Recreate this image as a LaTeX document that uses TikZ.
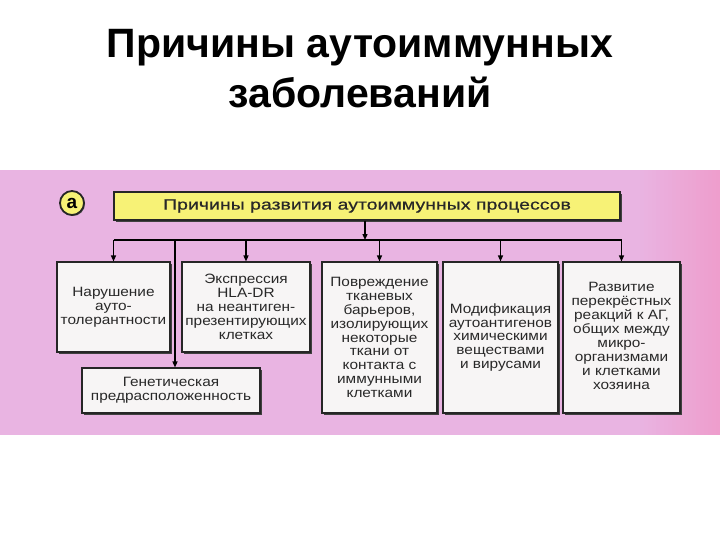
\documentclass[tikz,border=0pt]{standalone}
\usepackage{fontspec}
\setmainfont{Liberation Sans}
\newfontfamily\boxfont[FakeStretch=1.14]{Liberation Sans}
\newfontfamily\hdrfont[FakeStretch=1.3,FakeBold=0.6]{Liberation Sans}
\usetikzlibrary{positioning,arrows.meta,shadows}

\definecolor{bandpink}{RGB}{233,180,226}
\definecolor{edgepink}{RGB}{238,158,205}
\definecolor{hdryellow}{RGB}{247,242,118}
\definecolor{boxwhite}{RGB}{247,245,245}
\definecolor{boxtext}{RGB}{40,40,40}

\tikzset{
  cause/.style={draw=black!85,line width=1.1pt,fill=boxwhite,align=center,
    text=boxtext,font=\boxfont\fontsize{13.5}{13.9}\selectfont,inner sep=0pt,
    drop shadow={shadow xshift=1.6pt,shadow yshift=-1.6pt,fill=black!75,opacity=1}},
  arr/.style={-{Triangle[length=6pt,width=5pt]},line width=1.3pt}
}

\begin{document}
\begin{tikzpicture}[x=1pt,y=-1pt]
  \useasboundingbox[fill=white] (0,0) rectangle (720,540);
  % pink band, darker towards the right edge
  \fill[bandpink] (0,170) rectangle (720,435);
  \foreach \i in {0,...,19}{
    \pgfmathtruncatemacro\mix{5*\i+5}
    \fill[edgepink!\mix!bandpink] (640+4*\i,170) rectangle (644.5+4*\i,435);
  }

  % title
  \node[font=\bfseries\fontsize{41}{50}\selectfont,align=center] (title) at (360,69)
    {Причины аутоиммунных\\заболеваний};

  % header
  \node[circle,draw=black!85,line width=1.8pt,fill=hdryellow,minimum width=24pt,
    minimum height=21pt,inner sep=0pt,font=\bfseries\fontsize{19}{19}\selectfont,
    drop shadow={shadow xshift=1pt,shadow yshift=-1pt,fill=black!60,opacity=1}]
    (mark) at (72,203) {\raisebox{-1pt}{а}};
  \node[draw=black!85,line width=1.1pt,fill=hdryellow,minimum width=506pt,minimum height=28pt,
    inner sep=0pt,font=\hdrfont\fontsize{15}{15}\selectfont,text=boxtext,
    drop shadow={shadow xshift=1.6pt,shadow yshift=-1.6pt,fill=black!75,opacity=1}]
    (hdr) at (367,206) {Причины развития аутоиммунных процессов};

  % causes
  \node[cause,minimum width=113pt,minimum height=90pt] (tol) at (113.5,307)
    {Нарушение\\ауто-\\толерантности};
  \node[cause,minimum width=128pt,minimum height=90pt] (hla) at (246,307)
    {Экспрессия\\HLA-DR\\на неантиген-\\презентирующих\\клетках};
  \node[cause,minimum width=178pt,minimum height=45pt] (genet) at (171,390.5)
    {Генетическая\\предрасположенность};
  \node[cause,minimum width=115pt,minimum height=151pt] (barr) at (379.5,337.5)
    {Повреждение\\тканевых\\барьеров,\\изолирующих\\некоторые\\ткани от\\контакта с\\иммунными\\клетками};
  \node[cause,minimum width=115pt,minimum height=151pt] (modif) at (500.5,337.5)
    {Модификация\\аутоантигенов\\химическими\\веществами\\и вирусами};
  \node[cause,minimum width=117pt,minimum height=151pt] (cross) at (621.5,337.5)
    {\\[-8pt]Развитие\\перекрёстных\\реакций к АГ,\\общих между\\микро-\\организмами\\и клетками\\хозяина};

  % connectors
  \coordinate (bus) at (365,240);
  \coordinate (gtap) at (175,240);
  \draw[arr] (hdr.south -| bus) -- (bus);
  \draw[line width=1.3pt] (tol.north |- bus) -- (cross.north |- bus);
  \foreach \n in {tol,hla,barr,modif,cross}
    \draw[arr] (\n.north |- bus) -- (\n.north);
  \draw[arr] (gtap) -- (gtap |- genet.north);
\end{tikzpicture}
\end{document}
